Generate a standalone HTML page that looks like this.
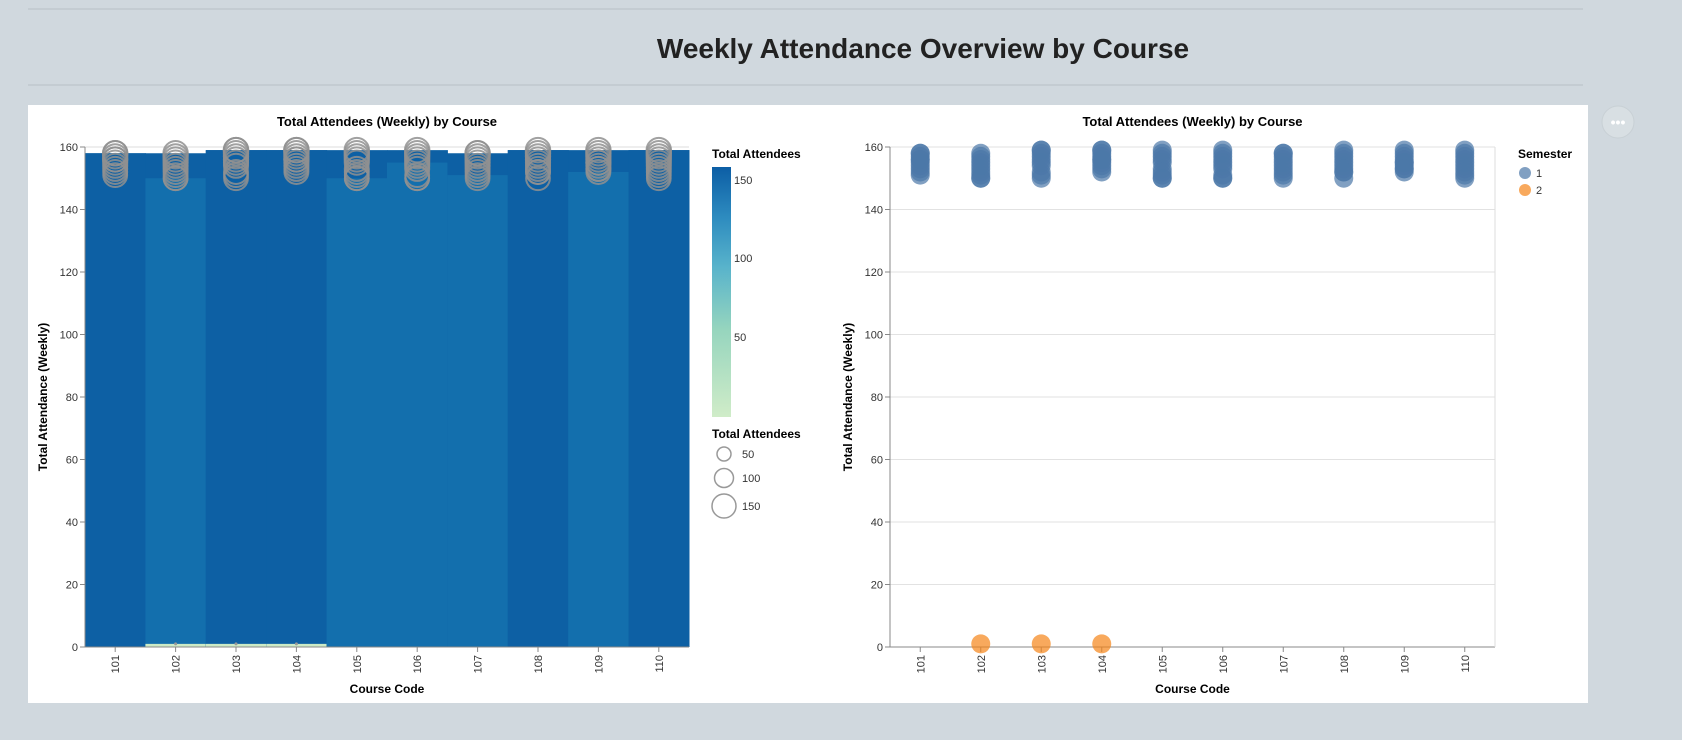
<!DOCTYPE html>
<html><head><meta charset="utf-8">
<style>
body{margin:0;background:#d0d8de;width:1682px;height:735px;overflow:hidden;font-family:"Liberation Sans",sans-serif;}
</style></head>
<body>
<svg width="1682" height="735" xmlns="http://www.w3.org/2000/svg" font-family="Liberation Sans, sans-serif">
<defs>
<linearGradient id="grad" x1="0" y1="1" x2="0" y2="0">
<stop offset="0" stop-color="#d0ecc8"/><stop offset="0.35" stop-color="#96d5be"/><stop offset="0.6" stop-color="#58b3cb"/><stop offset="0.8" stop-color="#2d8bbf"/><stop offset="1" stop-color="#0c5ea5"/>
</linearGradient>
</defs>
<line x1="28" y1="9" x2="1583" y2="9" stroke="#b8c0c6"/>
<text x="923" y="58" text-anchor="middle" font-size="28" font-weight="bold" fill="#222">Weekly Attendance Overview by Course</text>
<line x1="28" y1="85" x2="1583" y2="85" stroke="#b8c0c6"/>
<rect x="28" y="105" width="1560" height="598" fill="#fff"/>
<g><circle cx="1618" cy="122" r="16" fill="#d8dfe3" stroke="#c8d0d5"/><text x="1618" y="127" text-anchor="middle" font-size="14" fill="#fff" font-weight="bold">•••</text></g>
<g id="left"></g>
<g id="right"></g>
</svg>
<script>
const courses=['101','102','103','104','105','106','107','108','109','110'];
const barMax=[158,158,159,159,159,159,158,159,159,159];
const barLower=[158,150,159,159,150,155,151,159,152,159];
const sem2Values=[0,1,1,1,0,0,0,0,0,0];
const weekly=[
[151,153,154,155,156,157,158,158,152,156],
[150,151,152,153,155,156,157,158,150,154],
[150,152,154,156,157,158,159,159,151,155],
[152,153,155,156,157,158,159,159,154,156],
[150,151,153,155,156,157,158,159,150,152],
[150,151,153,154,156,157,158,159,150,155],
[150,152,153,155,157,158,158,151,154,156],
[150,152,154,155,156,157,158,159,152,153],
[152,153,154,155,156,157,158,159,153,155],
[150,151,153,154,155,156,157,158,159,152]];
const yTicks=[0,20,40,60,80,100,120,140,160];
const NS='http://www.w3.org/2000/svg';
function mk(p,t,a){const e=document.createElementNS(NS,t);for(const k in a)e.setAttribute(k,a[k]);p.appendChild(e);return e;}
const y0=647,y1=147;
const yS=v=>y0-(v/160)*(y0-y1);
function axes(g,x0,x1,title,grid){
  const bw=(x1-x0)/courses.length;
  const xS=i=>x0+bw*(i+0.5);
  yTicks.forEach(t=>{
    if(grid){const l=mk(g,'line',{x1:x0,x2:x1,y1:yS(t),y2:yS(t),stroke:'#e2e2e2'});}
    mk(g,'line',{x1:x0-5,x2:x0,y1:yS(t),y2:yS(t),stroke:'#888'});
    const tx=mk(g,'text',{x:x0-7,y:yS(t)+4,'text-anchor':'end','font-size':11,fill:'#333'});tx.textContent=t;
    
  });
  courses.forEach((c,i)=>{
    mk(g,'line',{x1:xS(i),x2:xS(i),y1:y0,y2:y0+5,stroke:'#888'});
    const tx=mk(g,'text',{transform:`translate(${xS(i)+4},${y0+8}) rotate(-90)`,'text-anchor':'end','font-size':11,fill:'#333'});tx.textContent=c;
    
  });
  mk(g,'line',{x1:x0,x2:x0,y1:y1,y2:y0,stroke:'#888'});
  mk(g,'line',{x1:x0,x2:x1,y1:y0,y2:y0,stroke:'#888'});
  if(grid){mk(g,'line',{x1:x1,x2:x1,y1:y1,y2:y0,stroke:'#ddd'});}
  const t=mk(g,'text',{x:(x0+x1)/2,y:126,'text-anchor':'middle','font-size':13,'font-weight':'bold',fill:'#000'});t.textContent='Total Attendees (Weekly) by Course';
  
  const xt=mk(g,'text',{x:(x0+x1)/2,y:693,'text-anchor':'middle','font-size':12,'font-weight':'bold',fill:'#000'});xt.textContent='Course Code';
  
  const yt=mk(g,'text',{transform:`translate(${x0-38},${(y0+y1)/2}) rotate(-90)`,'text-anchor':'middle','font-size':12,'font-weight':'bold',fill:'#000'});yt.textContent='Total Attendance (Weekly)';
  
  return {xS,bw};
}
// left chart
const L=document.getElementById('left');
const lx0=85,lx1=689,lbw=(lx1-lx0)/courses.length;
mk(L,'line',{x1:lx0,x2:lx1,y1:y1,y2:y1,stroke:'#ddd'});
courses.forEach((c,i)=>{
  const x=lx0+lbw*i;
  const r=mk(L,'rect',{x:x,y:yS(barMax[i]),width:lbw+0.5,height:y0-yS(barMax[i]),fill:'#0d60a4'});
  
  const r2=mk(L,'rect',{x:x,y:yS(barLower[i]),width:lbw+0.5,height:y0-yS(barLower[i]),fill:barLower[i]<barMax[i]?'#136fad':'#0d60a4'});
  
  if(sem2Values[i]>0){const s=mk(L,'rect',{x:x,y:yS(sem2Values[i]),width:lbw,height:y0-yS(sem2Values[i]),fill:'#cdebc6'});
    }
});
const ax=axes(L,lx0,lx1,'',false);
courses.forEach((c,i)=>{
  weekly[i].forEach(v=>{const p=mk(L,'circle',{cx:ax.xS(i),cy:yS(v),r:Math.sqrt(v)*0.97,fill:'none',stroke:'#909090','stroke-width':2,opacity:0.85});
    });
  if(sem2Values[i]>0){const p=mk(L,'circle',{cx:ax.xS(i),cy:yS(sem2Values[i]),r:1.5,fill:'#999'});}
});
// legends
const lg=mk(L,'g',{});
let t=mk(lg,'text',{x:712,y:158,'font-size':12,'font-weight':'bold'});t.textContent='Total Attendees';
mk(lg,'rect',{x:712,y:167,width:19,height:250,fill:'url(#grad)'});
[[150,180],[100,258],[50,337]].forEach(a=>{const e=mk(lg,'text',{x:734,y:a[1]+4,'font-size':11,fill:'#333'});e.textContent=a[0];});
const sg=mk(L,'g',{});
t=mk(sg,'text',{x:712,y:438,'font-size':12,'font-weight':'bold'});t.textContent='Total Attendees';
[[50,454,7],[100,478,9.5],[150,506,12]].forEach(a=>{mk(sg,'circle',{cx:724,cy:a[1],r:a[2],fill:'none',stroke:'#999','stroke-width':1.5});const e=mk(sg,'text',{x:742,y:a[1]+4,'font-size':11,fill:'#333'});e.textContent=a[0];});
// right chart
const R=document.getElementById('right');
const rx=axes(R,890,1495,'',true);
courses.forEach((c,i)=>{
  weekly[i].forEach(v=>{const p=mk(R,'circle',{cx:rx.xS(i),cy:yS(v),r:9.5,fill:'#4c78a8',opacity:0.7});
    });
  if(sem2Values[i]>0){const p=mk(R,'circle',{cx:rx.xS(i),cy:yS(sem2Values[i]),r:9.5,fill:'#f58518',opacity:0.7});
    }
});
const rg=mk(R,'g',{});
t=mk(rg,'text',{x:1518,y:158,'font-size':12,'font-weight':'bold'});t.textContent='Semester';
[['1','#4c78a8',173],['2','#f58518',190]].forEach(a=>{mk(rg,'circle',{cx:1525,cy:a[2],r:6,fill:a[1],opacity:0.7});const e=mk(rg,'text',{x:1536,y:a[2]+4,'font-size':11,fill:'#333'});e.textContent=a[0];});
</script>
</body></html>
